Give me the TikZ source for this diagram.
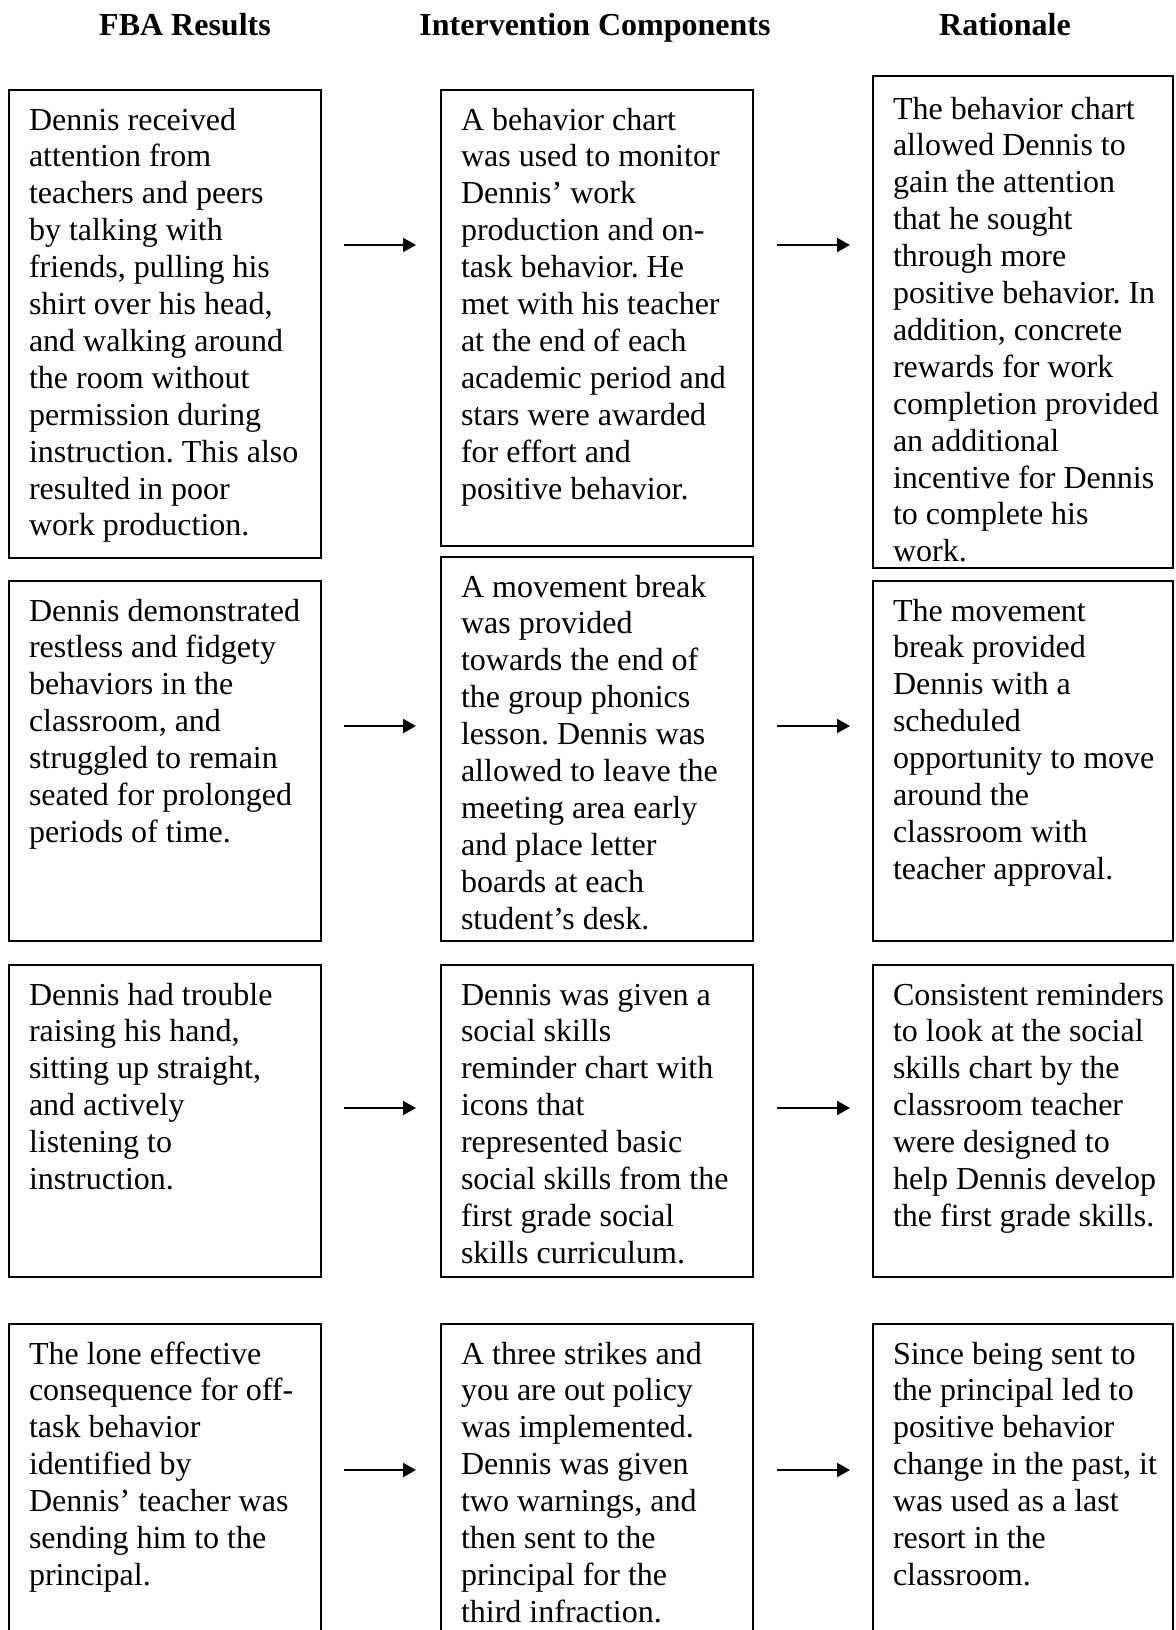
\documentclass[tikz,border=0pt]{standalone}
\usepackage{fontspec}
\setmainfont{Liberation Serif}
\usetikzlibrary{arrows.meta}
\frenchspacing
\newcommand{\boxtext}[1]{\begin{minipage}[t]{330pt}\raggedright\frenchspacing #1\end{minipage}}
\tikzset{
  box/.style={draw, line width=1.6pt, anchor=north west, inner sep=0pt, outer sep=0pt, minimum width=312pt},
  rbox/.style={box, minimum width=300pt},
  txt/.style={anchor=base west, inner sep=0pt, outer sep=0pt, font=\fontsize{32}{36.9}\selectfont},
  head/.style={anchor=base, inner sep=0pt, font=\fontsize{32}{36.9}\selectfont\bfseries},
  arr/.style={line width=2pt, -{Triangle[length=13pt,width=14pt]}}
}
\begin{document}
\begin{tikzpicture}[x=1pt,y=-1pt]
\useasboundingbox (0,0) rectangle (1175,1630);
\clip (0,0) rectangle (1175,1630);
\fill[white] (0,0) rectangle (1175,1630);
% headers
\node[head] (h1) at (185,35) {FBA Results};
\node[head] (h2) at (595,35) {Intervention Components};
\node[head] (h3) at (1005,35) {Rationale};
% row 1
\node[box, minimum height=468pt] (b11) at (9,90) {};
\node[box, minimum height=456pt] (b12) at (441,90) {};
\node[rbox, minimum height=492pt] (b13) at (873,76) {};
\node[txt] (t11) at (29,130) {\boxtext{Dennis received\\attention from\\teachers and peers\\by talking with\\friends, pulling his\\shirt over his head,\\and walking around\\the room without\\permission during\\instruction. This also\\resulted in poor\\work production.}};
\node[txt] (t12) at (461,130) {\boxtext{A behavior chart\\was used to monitor\\Dennis’ work\\production and on-\\task behavior. He\\met with his teacher\\at the end of each\\academic period and\\stars were awarded\\for effort and\\positive behavior.}};
\begin{scope}
\clip (873,76) rectangle (1173,567);
\node[txt] (t13) at (893,119) {\boxtext{The behavior chart\\allowed Dennis to\\gain the attention\\that he sought\\through more\\positive behavior. In\\addition, concrete\\rewards for work\\completion provided\\an additional\\incentive for Dennis\\to complete his\\work.}};
\end{scope}
% row 2
\node[box, minimum height=360pt] (b21) at (9,581) {};
\node[box, minimum height=384pt] (b22) at (441,557) {};
\node[rbox, minimum height=360pt] (b23) at (873,581) {};
\node[txt] (t21) at (29,621) {\boxtext{Dennis demonstrated\\restless and fidgety\\behaviors in the\\classroom, and\\struggled to remain\\seated for prolonged\\periods of time.}};
\node[txt] (t22) at (461,597) {\boxtext{A movement break\\was provided\\towards the end of\\the group phonics\\lesson. Dennis was\\allowed to leave the\\meeting area early\\and place letter\\boards at each\\student’s desk.}};
\node[txt] (t23) at (893,621) {\boxtext{The movement\\break provided\\Dennis with a\\scheduled\\opportunity to move\\around the\\classroom with\\teacher approval.}};
% row 3
\node[box, minimum height=312pt] (b31) at (9,965) {};
\node[box, minimum height=312pt] (b32) at (441,965) {};
\node[rbox, minimum height=312pt] (b33) at (873,965) {};
\node[txt] (t31) at (29,1005) {\boxtext{Dennis had trouble\\raising his hand,\\sitting up straight,\\and actively\\listening to\\instruction.}};
\node[txt] (t32) at (461,1005) {\boxtext{Dennis was given a\\social skills\\reminder chart with\\icons that\\represented basic\\social skills from the\\first grade social\\skills curriculum.}};
\node[txt] (t33) at (893,1005) {\boxtext{Consistent reminders\\to look at the social\\skills chart by the\\classroom teacher\\were designed to\\help Dennis develop\\the first grade skills.}};
% row 4
\node[box, minimum height=330pt] (b41) at (9,1324) {};
\node[box, minimum height=330pt] (b42) at (441,1324) {};
\node[rbox, minimum height=330pt] (b43) at (873,1324) {};
\node[txt] (t41) at (29,1364) {\boxtext{The lone effective\\consequence for off-\\task behavior\\identified by\\Dennis’ teacher was\\sending him to the\\principal.}};
\node[txt] (t42) at (461,1364) {\boxtext{A three strikes and\\you are out policy\\was implemented.\\Dennis was given\\two warnings, and\\then sent to the\\principal for the\\third infraction.}};
\node[txt] (t43) at (893,1364) {\boxtext{Since being sent to\\the principal led to\\positive behavior\\change in the past, it\\was used as a last\\resort in the\\classroom.}};
% arrows
\coordinate (a1s) at (344,245); \coordinate (a1e) at (416,245);
\coordinate (a2s) at (777,245); \coordinate (a2e) at (850,245);
\coordinate (a3s) at (344,726); \coordinate (a3e) at (416,726);
\coordinate (a4s) at (777,726); \coordinate (a4e) at (850,726);
\coordinate (a5s) at (344,1108); \coordinate (a5e) at (416,1108);
\coordinate (a6s) at (777,1108); \coordinate (a6e) at (850,1108);
\coordinate (a7s) at (344,1470); \coordinate (a7e) at (416,1470);
\coordinate (a8s) at (777,1470); \coordinate (a8e) at (850,1470);
\draw[arr] (a1s) -- (a1e);
\draw[arr] (a2s) -- (a2e);
\draw[arr] (a3s) -- (a3e);
\draw[arr] (a4s) -- (a4e);
\draw[arr] (a5s) -- (a5e);
\draw[arr] (a6s) -- (a6e);
\draw[arr] (a7s) -- (a7e);
\draw[arr] (a8s) -- (a8e);
\end{tikzpicture}
\end{document}
